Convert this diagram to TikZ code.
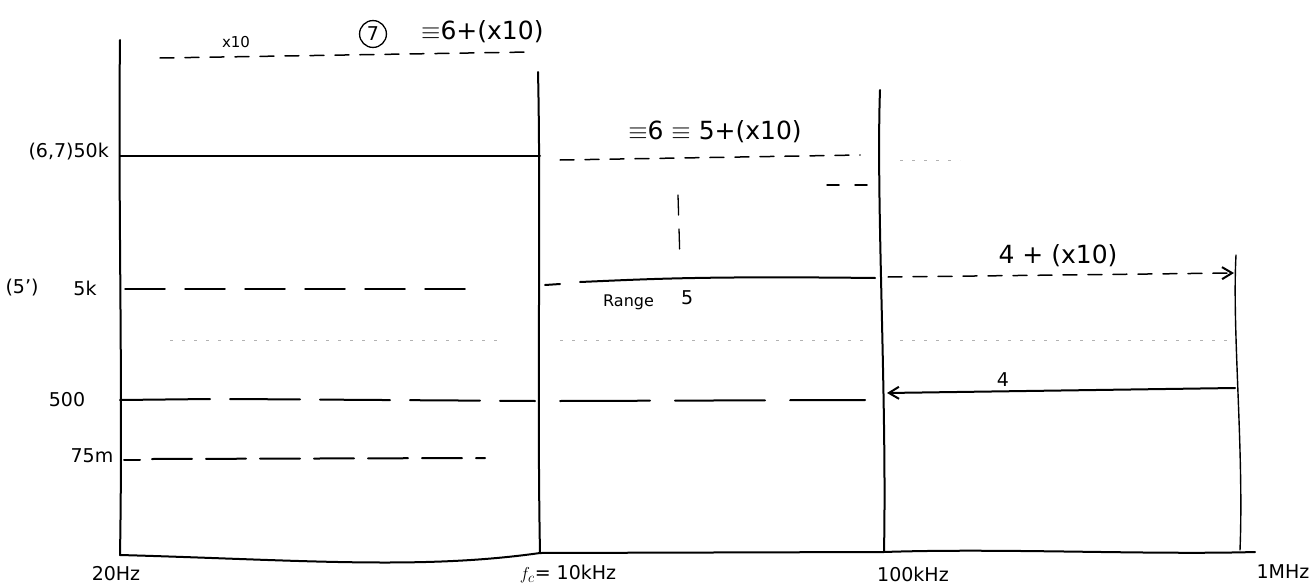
\documentclass[tikz,border=0pt]{standalone}
\usepackage{fontspec}
\setmainfont{DejaVu Sans}
\usetikzlibrary{arrows.meta}
\tikzset{
  pen/.style={line width=2pt, line cap=round, black},
  dashpen/.style={pen, dash pattern=on 14pt off 11pt},
  faintpen/.style={line width=0.8pt, gray!60, dash pattern=on 3pt off 9pt},
  lbl/.style={font=\fontsize{19}{22}\selectfont, inner sep=1pt},
  biglbl/.style={font=\fontsize{25}{28}\selectfont, inner sep=1pt},
  smalllbl/.style={font=\fontsize{15}{17}\selectfont, inner sep=1pt},
  tip/.style={-{Straight Barb[length=10pt,width=12pt,line width=2pt]}},
}
\begin{document}
\begin{tikzpicture}[x=1pt,y=-1pt]
\useasboundingbox (0,0) rectangle (1315,586);
\fill[white] (0,0) rectangle (1315,586);
% grid coordinates
\coordinate (aT) at (120,40);   \coordinate (aB) at (120,555);
\coordinate (bT) at (538,72);   \coordinate (bB) at (540,553);
\coordinate (cT) at (880,90);   \coordinate (cB) at (884,552);
\coordinate (dT) at (1236,255); \coordinate (dB) at (1240,550);
% vertical lines
\draw[pen] (aT) .. controls (118,200) and (123,380) .. (aB);
\draw[pen] (bT) .. controls (541,200) and (537,400) .. (bB);
\draw[pen] (cT) .. controls (876,200) and (887,400) .. (cB);
\draw[pen, line width=1.4pt] (dT) .. controls (1232,330) and (1244,450) .. (dB);
% bottom axis
\draw[pen] (aB) .. controls (300,560) and (420,570) .. (bB) -- (cB) .. controls (1000,548) and (1150,555) .. (1255,552);
% top dashed line
\coordinate (t1) at (160,58); \coordinate (t2) at (530,52);
\draw[dashpen, line width=1.5pt] (t1) -- (t2);
\node[smalllbl] (x10a) at (236,42) {x10};
\node[lbl, draw, circle, line width=1.3pt, inner sep=3pt] (seven) at (373,34) {7};
\node[biglbl, anchor=west] (top) at (420,32) {$\equiv$6+(x10)};
% 50k line
\coordinate (k50a) at (120,156); \coordinate (k50b) at (540,156);
\draw[pen] (k50a) -- (k50b);
\node[lbl, anchor=east] (l50k) at (110,152) {(6,7)50k};
\coordinate (m50a) at (560,160); \coordinate (m50b) at (860,155);
\draw[dashpen, line width=1.5pt] (m50a) -- (m50b);
\node[biglbl] (six) at (715,132) {$\equiv$6 $\equiv$ 5+(x10)};
\coordinate (s1) at (827,185); \coordinate (s2) at (868,185);
\draw[pen, line width=1.5pt, dash pattern=on 12pt off 16pt] (s1) -- (s2);
\coordinate (v1) at (678,195); \coordinate (v2) at (680,262);
\draw[pen, line width=1.3pt, dash pattern=on 20pt off 14pt] (v1) -- (v2);
% 5k line
\coordinate (k5a) at (125,289); \coordinate (k5b) at (482,289);
\draw[dashpen, line width=1.5pt, dash pattern=on 40pt off 20pt] (k5a) -- (k5b);
\node[lbl] (l5k) at (85,288) {5k};
\node[lbl] (l5p) at (22,288) {(5')};
\coordinate (r5a) at (545,285); \coordinate (r5b) at (875,278);
\draw[pen] (r5a) -- (560,284);
\draw[pen] (580,282) .. controls (650,279) and (700,276) .. (r5b);
\node[font=\fontsize{16}{18}\selectfont, anchor=west, inner sep=1pt] (range) at (602,302) {Range};
\node[lbl, anchor=west] (rfive) at (680,298) {5};
\coordinate (k4a) at (888,277); \coordinate (k4b) at (1234,273);
\draw[dashpen, line width=1.5pt, tip] (k4a) -- (k4b);
\node[biglbl] (four10) at (1058,256) {4 + (x10)};
% faint dotted lines
\draw[faintpen] (560,340) -- (870,340);
\draw[faintpen] (900,340) -- (1230,340);
\draw[faintpen] (170,340) -- (500,340);
\draw[faintpen] (900,160) -- (960,160);
% 500 line
\coordinate (h5a) at (120,400); \coordinate (h5b) at (535,401);
\draw[pen] (h5a) -- (210,399);
\draw[dashpen, dash pattern=on 70pt off 20pt] (230,399) -- (h5b);
\node[lbl] (l500) at (67,400) {500};
\coordinate (m5a) at (560,401); \coordinate (m5b) at (865,400);
\draw[dashpen, dash pattern=on 90pt off 25pt] (m5a) -- (m5b);
\coordinate (a4s) at (1235,388); \coordinate (a4e) at (887,393);
\draw[pen, tip] (a4s) -- (a4e);
\node[lbl] (four) at (1003,380) {4};
% 75m line
\coordinate (h75a) at (124,460); \coordinate (h75b) at (485,458);
\draw[pen] (h75a) -- (140,460);
\draw[dashpen, dash pattern=on 40pt off 14pt] (152,459) -- (h75b);
\node[lbl] (l75) at (92,456) {75m};
% bottom labels
\node[lbl] (f20) at (116,574) {20Hz};
\node[lbl] (f10k) at (568,574) {$f_c$= 10kHz};
\node[lbl] (f100k) at (913,574) {100kHz};
\node[lbl] (f1M) at (1283,572) {1MHz};
\end{tikzpicture}
\end{document}
